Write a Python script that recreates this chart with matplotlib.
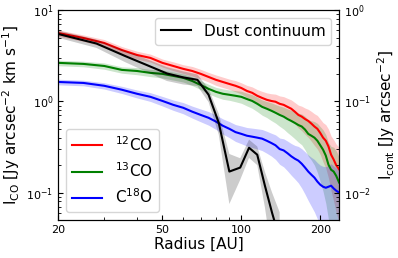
# Radial intensity profiles of CO isotopologues and dust continuum
import numpy as np
import matplotlib
matplotlib.use('Agg')
import matplotlib.pyplot as plt
from matplotlib.ticker import FixedLocator, ScalarFormatter, NullFormatter

# CO profiles (radius in AU, intensity in Jy arcsec^-2 km s^-1)
radius = [20, 25, 30, 35, 40, 45, 50, 55, 60, 65, 70, 75, 80, 85, 90, 95, 100,
          105, 110, 115, 120, 125, 130, 135, 140, 145, 150, 155, 160, 165, 170,
          175, 180, 185, 190, 195, 200, 205, 210, 215, 220, 225, 230, 236]

co12 = [5.61, 4.94, 4.36, 3.65, 3.22, 2.99, 2.64, 2.44, 2.27, 2.15, 2.00, 1.85,
        1.72, 1.63, 1.55, 1.48, 1.40, 1.30, 1.24, 1.15, 1.09, 1.04, 1.01, 0.99,
        0.94, 0.915, 0.87, 0.83, 0.77, 0.71, 0.68, 0.64, 0.61, 0.57, 0.53, 0.50,
        0.45, 0.40, 0.37, 0.32, 0.26, 0.23, 0.20, 0.18]
co13 = [2.64, 2.57, 2.44, 2.21, 2.15, 2.05, 2.00, 1.90, 1.81, 1.67, 1.51, 1.37,
        1.27, 1.21, 1.18, 1.15, 1.12, 1.06, 1.01, 0.94, 0.87, 0.83, 0.79, 0.75,
        0.71, 0.68, 0.64, 0.61, 0.58, 0.55, 0.53, 0.49, 0.44, 0.42, 0.40, 0.37,
        0.33, 0.295, 0.254, 0.202, 0.178, 0.170, 0.153, 0.129]
c18o = [1.63, 1.59, 1.48, 1.34, 1.21, 1.12, 1.01, 0.915, 0.85, 0.77, 0.71, 0.66,
        0.60, 0.54, 0.50, 0.46, 0.44, 0.42, 0.41, 0.40, 0.39, 0.37, 0.35, 0.33,
        0.30, 0.29, 0.27, 0.25, 0.235, 0.224, 0.207, 0.188, 0.170, 0.157, 0.146,
        0.132, 0.122, 0.116, 0.113, 0.116, 0.119, 0.111, 0.105, 0.100]

# fractional uncertainties
co12_frac = [.08, .08, .09, .09, .10, .10, .10, .11, .11, .12, .12, .12, .13, .13,
             .13, .14, .14, .15, .16, .17, .18, .19, .20, .21, .22, .23, .24, .25,
             .26, .28, .30, .32, .34, .36, .38, .40, .42, .46, .50, .55, .60, .65,
             .70, .74]
co13_frac = [.07, .07, .08, .08, .09, .09, .10, .10, .10, .11, .11, .12, .12, .13,
             .13, .14, .15, .16, .17, .18, .19, .20, .22, .23, .25, .27, .29, .31,
             .33, .35, .37, .40, .43, .46, .50, .55, .60, .65, .70, .75, .80, .85,
             .88, .90]
c18o_frac = [.07, .07, .08, .09, .10, .11, .12, .13, .14, .15, .16, .17, .18, .19,
             .20, .21, .22, .23, .24, .25, .26, .27, .28, .30, .32, .34, .36, .38,
             .40, .43, .46, .49, .52, .55, .58, .61, .64, .67, .70, .72, .74, .76,
             .78, .80]

# dust continuum (Jy arcsec^-2)
radius_dust = [20, 28, 36, 44, 52, 60, 68, 75, 82, 90, 99, 107, 115, 123, 131, 140]
dust = [0.547, 0.43, 0.314, 0.247, 0.202, 0.183, 0.172, 0.118, 0.0582, 0.0170,
        0.0188, 0.0310, 0.0260, 0.0119, 0.0060, 0.0031]
dust_err = [0.05, 0.045, 0.045, 0.04, 0.035, 0.03, 0.025, 0.02, 0.015, 0.0095,
            0.005, 0.007, 0.006, 0.005, 0.004, 0.003]

fig = plt.figure(figsize=(3.98, 2.58), dpi=100)
ax = fig.add_axes([0.146, 0.147, 0.706, 0.814])

r = np.array(radius)
series = [(co12, co12_frac, 'r', '$^{12}$CO'),
          (co13, co13_frac, 'g', '$^{13}$CO'),
          (c18o, c18o_frac, 'b', 'C$^{18}$O')]
for vals, frac, col, lab in series:
    v = np.array(vals)
    f = np.array(frac)
    ax.fill_between(r, v * (1 - f), v * (1 + f), color=col, alpha=0.2, lw=0)
    ax.plot(r, v, color=col, lw=1.5, label=lab)

ax.set_xscale('log')
ax.set_yscale('log')
ax.set_xlim(20, 236)
ax.set_ylim(0.05, 10)
ax.set_xlabel('Radius [AU]', fontsize=11, labelpad=1)
ax.set_ylabel('I$_{\\rm CO}$ [Jy arcsec$^{-2}$ km s$^{-1}$]', fontsize=11, labelpad=3)
ax.xaxis.set_major_locator(FixedLocator([20, 50, 100, 200]))
ax.xaxis.set_major_formatter(ScalarFormatter())
ax.xaxis.set_minor_formatter(NullFormatter())
ax.tick_params(which='both', direction='in', labelsize=8, top=False, right=False)
ax.legend(loc='lower left', fontsize=11)

ax2 = ax.twinx()
rd = np.array(radius_dust)
d = np.array(dust)
de = np.array(dust_err)
ax2.fill_between(rd, d - de, d + de, color='k', alpha=0.2, lw=0)
ax2.plot(rd, d, color='k', lw=1.5, label='Dust continuum')
ax2.set_yscale('log')
ax2.set_ylim(0.005, 1)
ax2.set_xlim(20, 236)
ax2.set_ylabel('I$_{\\rm cont}$ [Jy arcsec$^{-2}$]', fontsize=11, labelpad=3)
ax2.tick_params(which='both', direction='in', labelsize=8)
ax2.legend(loc='upper right', fontsize=11)

plt.savefig('out.png', dpi=100)
